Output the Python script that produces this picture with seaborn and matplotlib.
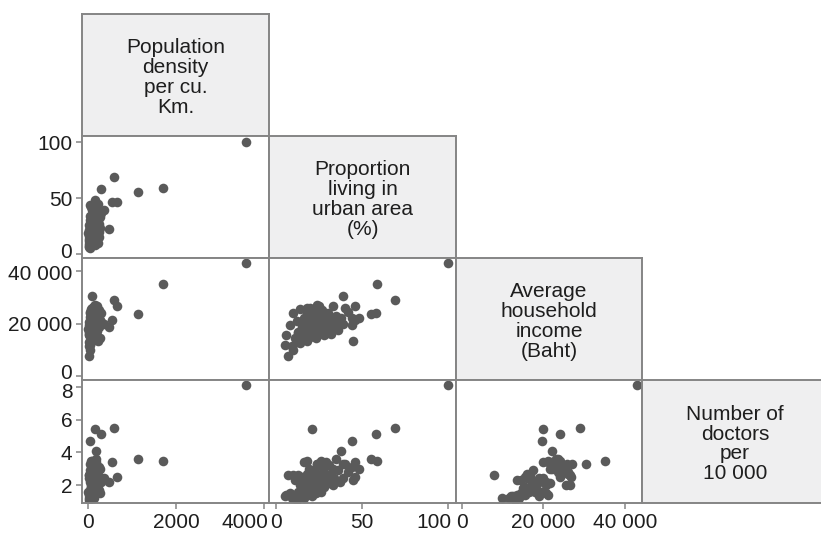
import matplotlib
matplotlib.use("Agg")
import matplotlib.pyplot as plt
import matplotlib.transforms as mtransforms
import pandas as pd
import seaborn as sns

# Province-level indicators
density = [3600, 1700, 1130, 600, 300, 160, 45, 180, 90, 30, 650, 540, 480, 360,
           40, 150, 20, 230, 60, 110, 15, 180, 70, 35, 260, 90, 25, 140, 50, 200,
           80, 120, 10, 170, 65, 240, 100, 30, 190, 55, 130, 280, 45, 160, 75,
           210, 95, 20, 145, 250, 60, 115, 185, 40, 220, 85, 135, 265, 50,
           175, 105, 300, 120, 70, 200, 230, 150,
           30, 50, 20, 110, 95, 150, 65, 130]
urban = [100, 59, 55, 69, 58, 21, 44, 38, 39, 7, 46, 46, 22, 39,
         5, 8, 9, 10, 11, 12, 12, 13, 14, 14, 15, 15, 16, 16, 17, 17,
         18, 18, 19, 19, 20, 20, 21, 21, 22, 22, 23, 23, 24, 24, 25,
         25, 26, 26, 27, 27, 28, 28, 29, 30, 30, 31, 32, 33, 34,
         35, 36, 37, 40, 42, 44, 45, 48,
         6, 10, 13, 16, 20, 24, 18, 33]
income = [43000, 35000, 23500, 29000, 24000, 19900, 19600, 22100, 30500, 7800, 26700, 21200, 18500, 20000,
          12000, 19500, 11500, 24000, 14500, 21000, 13000, 16500, 25500, 12500, 18500, 15500, 20500, 14000, 20000, 17000,
          13500, 26000, 18000, 23000, 15000, 21500, 19000, 16000, 17500, 24500, 20500, 14500, 22500, 18000, 16500,
          26500, 21000, 19500, 17000, 25000, 15500, 23500, 20000, 24000, 18500, 22000, 16000, 21500, 19000,
          23000, 17500, 20500, 25800, 24500, 22000, 13500, 22000,
          15500, 9800, 16800, 22000, 26000, 27000, 24000, 26500]
doctors = [8.1, 3.5, 3.6, 5.5, 5.15, 5.45, 4.7, 4.1, 3.3, 2.6, 2.5, 3.4, 2.2, 2.4,
           1.3, 1.5, 1.2, 2.6, 2.3, 1.4, 1.1, 1.6, 2.0, 1.3, 1.7, 2.5, 1.5, 1.2, 2.2, 1.9,
           1.4, 2.7, 1.6, 3.0, 1.8, 2.1, 1.3, 2.4, 1.7, 2.9, 2.0, 1.5, 3.3, 2.2, 1.8,
           2.6, 3.5, 1.6, 2.3, 3.1, 1.9, 2.8, 3.4, 2.5, 2.1, 3.2, 2.7, 3.0, 2.4,
           3.6, 2.9, 2.2, 3.3, 2.8, 3.1, 2.3, 3.0,
           1.4, 1.2, 2.6, 3.4, 2.8, 3.3, 3.5, 2.0]

columns = ["density", "urban", "income", "doctors"]
variable_labels = ["Population\ndensity\nper cu.\nKm.",
                   "Proportion\nliving in\nurban area\n(%)",
                   "Average\nhousehold\nincome\n(Baht)",
                   "Number of\ndoctors\nper\n10 000"]
tick_values = [[0, 2000, 4000], [0, 50, 100], [0, 20000, 40000], [2, 4, 6, 8]]
tick_labels = [["0", "2000", "4000"], ["0", "50", "100"],
               ["0", "20 000", "40 000"], ["2", "4", "6", "8"]]

df = pd.DataFrame({"density": density, "urban": urban,
                   "income": income, "doctors": doctors})

sns.set_style("white")
plt.rcParams["font.family"] = ["Liberation Sans", "DejaVu Sans"]

W, H = 821, 534
fig = plt.figure(figsize=(W / 100, H / 100), dpi=100)
fig.patch.set_facecolor("white")

col_edges = [82, 269, 456, 642, 830]
row_edges = [14, 136, 258, 380, 503]

# axis ranges per variable (as x and as y)
xlims = {0: (-136, 4114), 1: (-4.1, 104.7), 2: (-1470, 44170)}
ylims = {1: (-3.6, 105.4), 2: (-1520, 44950), 3: (0.9, 8.43)}

line_col = "#858585"
dot_col = "#5a5a5a"
fs = 15


def cell(r, c):
    x0, x1 = col_edges[c], col_edges[c + 1]
    y0, y1 = row_edges[r], row_edges[r + 1]
    return fig.add_axes([x0 / W, 1 - y1 / H, (x1 - x0) / W, (y1 - y0) / H])


def shift(label, dx_px, dy_px):
    label.set_transform(label.get_transform() +
                        mtransforms.ScaledTranslation(dx_px / 100, dy_px / 100,
                                                      fig.dpi_scale_trans))


for i in range(4):
    for j in range(i + 1):
        ax = cell(i, j)
        for sp in ax.spines.values():
            sp.set_color(line_col)
            sp.set_linewidth(1.4)
        if i == j:
            ax.set_facecolor("#efeff0")
            ax.set_xticks([])
            ax.set_yticks([])
            ax.text(0.5 if i < 3 else (735 - 642) / (830 - 642), 0.48,
                    variable_labels[i], transform=ax.transAxes,
                    ha="center", va="center", fontsize=fs, color="#1e1e1e",
                    linespacing=1.05)
            continue
        sns.scatterplot(data=df, x=columns[j], y=columns[i], ax=ax,
                        color=dot_col, s=48, linewidth=0, alpha=1)
        ax.set_xlim(*xlims[j])
        ax.set_ylim(*ylims[i])
        ax.set_xlabel("")
        ax.set_ylabel("")
        ax.tick_params(colors=line_col, labelcolor="#1e1e1e",
                       labelsize=fs, length=4, width=1.1, direction="out")
        if j == 0:
            ax.set_yticks(tick_values[i])
            ax.set_yticklabels(tick_labels[i])
            ax.tick_params(axis="y", left=True, pad=3)
            ylabels = ax.get_yticklabels()
            if i == 1:
                shift(ylabels[0], 0, 3)
            if i == 2:
                shift(ylabels[0], 0, 5)
                shift(ylabels[-1], 0, -2)
            if i == 3:
                shift(ylabels[-1], 0, -3)
        else:
            ax.set_yticks([])
        if i == 3:
            ax.set_xticks(tick_values[j])
            ax.set_xticklabels(tick_labels[j])
            ax.tick_params(axis="x", bottom=True, pad=3)
            if j < 2:
                lbl = ax.get_xticklabels()[-1]
                lbl.set_ha("right")
                shift(lbl, 4, 0)
        else:
            ax.set_xticks([])

fig.savefig("out.png", dpi=100, facecolor="white")
